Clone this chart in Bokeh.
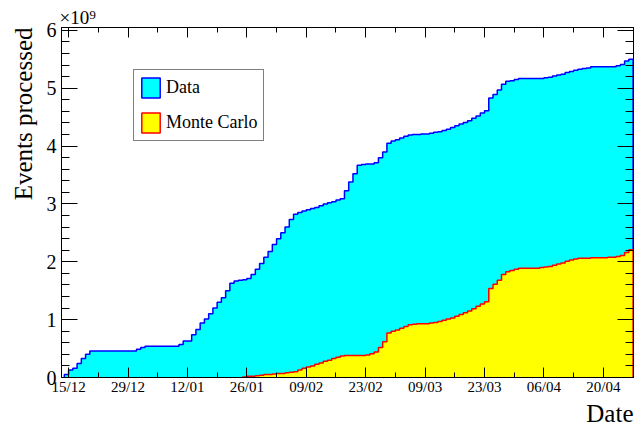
from bokeh.plotting import figure
from bokeh.models import (Range1d, FixedTicker, LinearAxis, Legend, LegendItem, Title)
from bokeh.embed import file_html
from bokeh.resources import INLINE

# ---------------- data (events processed, in units of 1e9, daily bins) -------------
first_bin_day = -1   # first bin starts one day before 15/12; bins are one day wide

data_events = [
    0.05, 0.13, 0.16, 0.24, 0.33, 0.40,                       # d -1..4
    0.46, 0.46, 0.46, 0.46, 0.46, 0.46, 0.46, 0.46, 0.46, 0.46, 0.46,  # d 5..15
    0.49, 0.52,                                               # d 16..17
    0.54, 0.54, 0.54, 0.54, 0.54, 0.54, 0.54, 0.54,           # d 18..25
    0.57, 0.63, 0.63, 0.74, 0.83, 0.94, 1.01, 1.10, 1.20, 1.30,  # d 26..35
    1.38, 1.50, 1.63, 1.67, 1.68, 1.69, 1.71, 1.78, 1.87, 1.97,  # d 36..45
    2.08, 2.18, 2.30, 2.40, 2.50, 2.60, 2.73, 2.82, 2.85, 2.88,  # d 46..55
    2.90, 2.92, 2.94, 2.97, 3.00, 3.02, 3.04, 3.07, 3.09, 3.23,  # d 56..65
    3.38, 3.52, 3.67, 3.68, 3.69, 3.69, 3.71, 3.80, 3.90, 4.05,  # d 66..75
    4.09, 4.11, 4.14, 4.17, 4.19, 4.20, 4.20, 4.21, 4.21, 4.22,  # d 76..85
    4.24, 4.25, 4.27, 4.29, 4.32, 4.35, 4.38, 4.41, 4.44, 4.48,  # d 86..95
    4.52, 4.57, 4.61, 4.83, 4.89, 4.97, 5.07, 5.12, 5.13, 5.15,  # d 96..105
    5.17, 5.17, 5.17, 5.17, 5.17, 5.17, 5.18, 5.19, 5.21, 5.23,  # d 106..115
    5.24, 5.27, 5.29, 5.31, 5.33, 5.34, 5.35, 5.37, 5.37, 5.37,  # d 116..125
    5.37, 5.37, 5.37, 5.39, 5.41, 5.47, 5.50,                    # d 126..132
]

mc_events = [
    0, 0, 0, 0, 0, 0, 0, 0, 0, 0, 0, 0, 0, 0, 0, 0, 0, 0, 0, 0, 0,   # d -1..19
    0, 0, 0, 0, 0, 0, 0, 0, 0, 0, 0, 0, 0, 0, 0, 0, 0, 0, 0, 0, 0,   # d 20..40
    0.01, 0.02, 0.02, 0.03, 0.04, 0.05, 0.05, 0.06, 0.07, 0.07,     # d 41..50
    0.08, 0.09, 0.10, 0.13, 0.16, 0.18, 0.20, 0.23, 0.25, 0.28,     # d 51..60
    0.30, 0.33, 0.35, 0.37, 0.38, 0.38, 0.38, 0.38, 0.38, 0.39,     # d 61..70
    0.41, 0.44, 0.52, 0.62, 0.77, 0.80, 0.82, 0.85, 0.88, 0.91,     # d 71..80
    0.92, 0.93, 0.93, 0.93, 0.94, 0.95, 0.97, 0.99, 1.01, 1.03,     # d 81..90
    1.06, 1.09, 1.12, 1.15, 1.19, 1.23, 1.27, 1.31, 1.54, 1.61,     # d 91..100
    1.68, 1.78, 1.83, 1.85, 1.87, 1.89, 1.89, 1.89, 1.89, 1.89,     # d 101..110
    1.90, 1.91, 1.92, 1.94, 1.96, 1.98, 2.01, 2.03, 2.05, 2.06,     # d 111..120
    2.06, 2.06, 2.07, 2.07, 2.07, 2.07, 2.08, 2.08, 2.09, 2.11,     # d 121..130
    2.16, 2.21,                                                     # d 131..132
]

x_tick_days = [0, 14, 28, 42, 56, 70, 84, 98, 112, 126]
x_tick_labels = ["15/12", "29/12", "12/01", "26/01", "09/02",
                 "23/02", "09/03", "23/03", "06/04", "20/04"]
x_minor_days = [7, 21, 35, 49, 63, 77, 91, 105, 119, 133]
y_ticks = [0, 1, 2, 3, 4, 5, 6]
y_minor_ticks = [0.2, 0.4, 0.6, 0.8, 1.2, 1.4, 1.6, 1.8, 2.2, 2.4, 2.6, 2.8,
                 3.2, 3.4, 3.6, 3.8, 4.2, 4.4, 4.6, 4.8, 5.2, 5.4, 5.6, 5.8]

x_start, x_end = -1.67, 133.1
y_end = 6.05

FONT = "Liberation Serif"
CYAN, BLUE = "#00ffff", "#0000ff"
YELLOW, RED = "#ffff00", "#ff0000"


def step_coords(values, first_day):
    xs, ys = [], []
    started = False
    for i, v in enumerate(values):
        if not started and v == 0:
            continue
        left = first_day + i
        right = left + 1
        if not started:
            xs.append(left)
            ys.append(0.0)
            started = True
        xs += [left, right]
        ys += [v, v]
    xs.append(xs[-1])
    ys.append(0.0)
    return xs, ys


p = figure(width=634, height=426,
           x_range=Range1d(x_start, x_end), y_range=Range1d(0, y_end),
           output_backend="svg", toolbar_location=None,
           x_axis_type=None, y_axis_type=None,
           min_border_left=61, min_border_right=1,
           min_border_top=27, min_border_bottom=47)
p.xgrid.visible = False
p.ygrid.visible = False
p.outline_line_color = "black"
p.background_fill_color = "white"
p.border_fill_color = "white"

# exponent shown as title above the frame
p.title.text = "×10⁹"
p.title.align = "left"
p.title.offset = -2
p.title.standoff = 0
p.title.text_font = FONT
p.title.text_font_size = "19px"
p.title.text_font_style = "normal"
p.title.text_color = "black"

# Data histogram
dx, dy = step_coords(data_events, first_bin_day)
p.varea(x=dx[1:-1], y1=[0] * (len(dx) - 2), y2=dy[1:-1], fill_color=CYAN)
p.line(x=dx, y=dy, line_color=BLUE, line_width=1.5)

# Monte Carlo histogram
mx, my = step_coords(mc_events, first_bin_day)
p.varea(x=mx[1:-1], y1=[0] * (len(mx) - 2), y2=my[1:-1], fill_color=YELLOW)
p.line(x=mx, y=my, line_color=RED, line_width=1.5)


def style_axis(ax, major_in, minor_in, font_size=None):
    ax.axis_line_color = "black"
    ax.axis_line_width = 1
    ax.major_tick_in = major_in
    ax.major_tick_out = 0
    ax.minor_tick_in = minor_in
    ax.minor_tick_out = 0
    ax.major_tick_line_color = "black"
    ax.minor_tick_line_color = "black"
    if font_size:
        ax.major_label_text_font = FONT
        ax.major_label_text_font_size = font_size
        ax.major_label_text_color = "black"
        ax.major_label_standoff = 4


xticker = FixedTicker(ticks=x_tick_days, minor_ticks=x_minor_days)
yticker = FixedTicker(ticks=y_ticks, minor_ticks=y_minor_ticks)

xb = LinearAxis(ticker=xticker)
xb.major_label_overrides = {d: lab for d, lab in zip(x_tick_days, x_tick_labels)}
style_axis(xb, 10, 5, "15px")
xb.major_label_standoff = 1
p.add_layout(xb, "below")

yl = LinearAxis(ticker=yticker)
style_axis(yl, 16, 8, "20px")
yl.major_label_standoff = 5
p.add_layout(yl, "left")

# tick marks on the top and right edges (no labels): long and short ticks
for pos_list, length in ((x_tick_days, 10), (x_minor_days, 5)):
    ax = LinearAxis(ticker=FixedTicker(ticks=[], minor_ticks=pos_list))
    style_axis(ax, 0, length)
    p.add_layout(ax, "above")
for pos_list, length in ((y_ticks, 16), (y_minor_ticks, 8)):
    ax = LinearAxis(ticker=FixedTicker(ticks=[], minor_ticks=pos_list))
    style_axis(ax, 0, length)
    p.add_layout(ax, "right")

# axis titles, aligned to the end of each axis (ROOT style)
ytitle = Title(text="Events processed", align="right", offset=0, standoff=13,
               text_font=FONT, text_font_size="25px", text_font_style="normal",
               text_color="black")
p.add_layout(ytitle, "left")
xtitle = Title(text="Date", align="right", offset=0, standoff=0,
               text_font=FONT, text_font_size="25px", text_font_style="normal",
               text_color="black")
p.add_layout(xtitle, "below")

# Legend (swatches with fill and outline); proxies reuse the first bin, hidden
leg_data = p.quad(left=[dx[1]], right=[dx[2]], top=[dy[1]], bottom=[0],
                  fill_color=CYAN, line_color=BLUE, line_width=1.5, visible=False)
leg_mc = p.quad(left=[mx[1]], right=[mx[2]], top=[my[1]], bottom=[0],
                fill_color=YELLOW, line_color=RED, line_width=1.5, visible=False)
legend = Legend(items=[LegendItem(label="Data", renderers=[leg_data]),
                       LegendItem(label="Monte Carlo", renderers=[leg_mc])],
                location=(72, 236))
legend.border_line_color = "black"
legend.border_line_width = 1
legend.background_fill_color = "white"
legend.background_fill_alpha = 1
legend.inactive_fill_alpha = 0
legend.label_text_font = FONT
legend.label_text_font_size = "18px"
legend.label_text_color = "black"
legend.glyph_width = 23
legend.glyph_height = 25
legend.label_height = 25
legend.label_standoff = 4
legend.spacing = 10
legend.padding = 5
legend.margin = 0
legend.click_policy = "none"
p.add_layout(legend)

open("out.html", "w").write(file_html(p, INLINE))
